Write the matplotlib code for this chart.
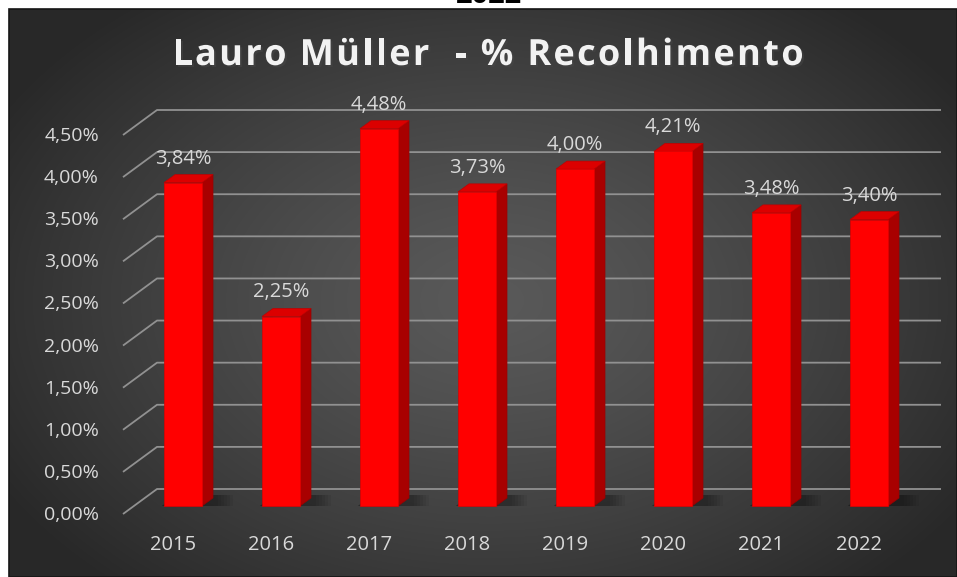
import matplotlib
matplotlib.use("Agg")
import matplotlib.pyplot as plt
import matplotlib.patheffects as pe
from matplotlib.patches import Polygon, Rectangle
import numpy as np

plt.rcParams["font.family"] = ["Open Sans", "DejaVu Sans"]

# % recolhimento por ano
years = ["2015", "2016", "2017", "2018", "2019", "2020", "2021", "2022"]
values = [3.84, 2.25, 4.48, 3.73, 4.00, 4.21, 3.48, 3.40]
ticks = [0.0, 0.5, 1.0, 1.5, 2.0, 2.5, 3.0, 3.5, 4.0, 4.5]
title = "Lauro Müller  - % Recolhimento"
top_text = "2022"

W, H = 957, 577
fig = plt.figure(figsize=(W / 100, H / 100), dpi=100)
renderer = fig.canvas.get_renderer()

# background: white page + dark radial-gradient panel
bg = fig.add_axes([0, 0, 1, 1])
bg.set_xlim(0, W)
bg.set_ylim(H, 0)
bg.axis("off")
yy, xx = np.mgrid[0:H, 0:W]
t = np.sqrt(((xx - 490) / 560.0) ** 2 + ((yy - 300) / 380.0) ** 2)
shade = 0.35 - 0.19 * np.clip(t, 0, 1) ** 1.3
img = np.dstack([shade, shade, shade])
bg.imshow(img[9:, 9:], extent=(9, W, H, 9), aspect="auto", zorder=0)
bg.add_patch(Rectangle((9, 9), W - 9, H - 9, fill=False, ec="#151515", lw=1.2, zorder=1))


def text_width(s, **kw):
    tmp = fig.text(0, 0, s + "|", **kw)
    bar = fig.text(0, 0, "|", **kw)
    wd = tmp.get_window_extent(renderer).width - bar.get_window_extent(renderer).width
    tmp.remove()
    bar.remove()
    return wd


# title with Excel-like letter spacing
tkw = dict(fontsize=26, fontweight="bold")
spacing = 2.3
total = text_width(title, **tkw) + spacing * (len(title) - 1)
xs = 488 - total / 2
for k, ch in enumerate(title):
    if ch == " ":
        continue
    px = xs + text_width(title[:k], **tkw) + spacing * k
    fig.text(px / W, 1 - 56 / H, ch, ha="left", va="center", color="#f2f2f2",
             path_effects=[pe.withSimplePatchShadow(offset=(1.5, -1.5), alpha=0.45)],
             **tkw)

fig.text(489 / W, 1 - 3 / H, top_text, ha="center", va="baseline", fontsize=21,
         fontweight="bold", color="black")

# main axes = front plane of the bars
left_px, right_px, base_px, top_px = 134, 918, 506, 127
ax = fig.add_axes([left_px / W, (H - base_px) / H, (right_px - left_px) / W,
                   (base_px - top_px) / H])
ax.set_xlim(-0.5, len(years) - 0.5)
ax.set_ylim(0, 4.5)
ax.axis("off")
ax.patch.set_alpha(0)

# pixel -> data scale
sx = (len(years)) / (right_px - left_px)
sy = 4.5 / (base_px - top_px)

x0, x1 = -0.5, len(years) - 0.5
fdx, fdy = -11 * sx, -8 * sy      # front (label) plane
bdx, bdy = 23 * sx, 17 * sy       # back wall
ddx, ddy = 11 * sx, 8 * sy        # bar depth

# gridlines: diagonal on left wall + horizontal on back wall
for v in ticks:
    ax.plot([x0 + fdx, x0 + bdx, x1 + bdx], [v + fdy, v + bdy, v + bdy],
            color="#919191", lw=1.3, clip_on=False, zorder=1,
            solid_capstyle="butt")
    lab = f"{v:.2f}".replace(".", ",") + "%"
    ax.text(x0 - 35 * sx, v - 9 * sy, lab, ha="right", va="center",
            fontsize=14, color="#d9d9d9", clip_on=False)

# 3D bars
w = 38 * sx
for i, v in enumerate(values):
    xl, xr = i - w / 2, i + w / 2
    # soft floor shadow
    for k in range(6):
        ex = (20 - 3 * k) * sx
        ax.add_patch(Polygon([(xl - 2 * sx, 0), (xr + ddx + ex, 0),
                              (xr + ddx + ex, ddy + 3 * sy), (xl + ddx, ddy + 3 * sy)],
                             closed=True, fc="black", ec="none", alpha=0.06,
                             zorder=2, clip_on=False))
    ax.add_patch(Polygon([(xr, 0), (xr + ddx, ddy), (xr + ddx, v + ddy), (xr, v)],
                         closed=True, fc="#a80000", ec="#9a0000", lw=0.5,
                         zorder=3, clip_on=False))
    ax.add_patch(Polygon([(xl, v), (xr, v), (xr + ddx, v + ddy), (xl + ddx, v + ddy)],
                         closed=True, fc="#dc0000", ec="#c00000", lw=0.5,
                         zorder=3, clip_on=False))
    ax.add_patch(Rectangle((xl, 0), w, v, fc="#ff0000", ec="#e00000", lw=0.5,
                           zorder=4, clip_on=False))
    ax.text(i, v + 24 * sy, f"{v:.2f}".replace(".", ",") + "%", ha="center",
            va="center", fontsize=14.5, color="#d9d9d9", clip_on=False, zorder=5)
    ax.text(i - 10 * sx, -39 * sy, years[i], ha="center", va="center",
            fontsize=14.5, color="#d9d9d9", clip_on=False)

fig.savefig("out.png", dpi=100)
